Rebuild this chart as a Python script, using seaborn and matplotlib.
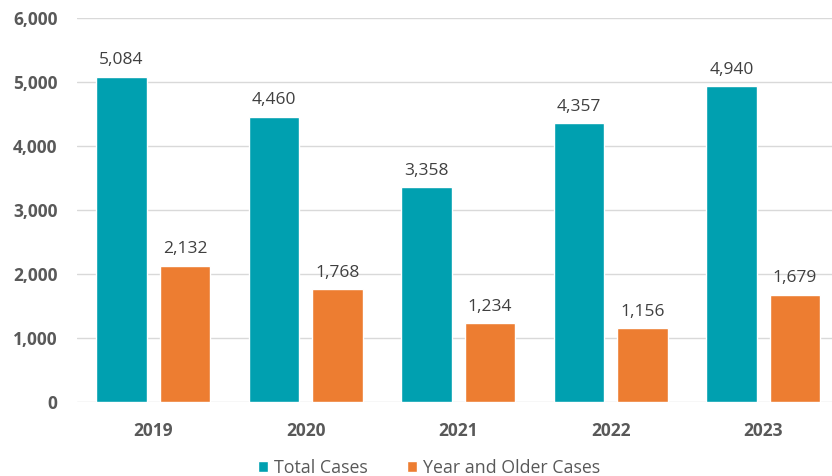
import numpy as np
import pandas as pd
import matplotlib.pyplot as plt
import matplotlib.ticker as mticker
import seaborn as sns

sns.set_theme(style="whitegrid")
plt.rcParams["font.family"] = ["Open Sans", "DejaVu Sans"]

years = ["2019", "2020", "2021", "2022", "2023"]
total_cases = [5084, 4460, 3358, 4357, 4940]
older_cases = [2132, 1768, 1234, 1156, 1679]
series_names = ["Total Cases", "Year and Older Cases"]

PALETTE = {"Total Cases": "#00A0B0", "Year and Older Cases": "#ED7D31"}
TEXT = "#595959"

df = pd.DataFrame({
    "Year": years * 2,
    "Cases": total_cases + older_cases,
    "Series": [series_names[0]] * len(years) + [series_names[1]] * len(years),
})

fig, ax = plt.subplots(figsize=(8.32, 4.76), dpi=100)
fig.subplots_adjust(left=0.0925, right=1.0, bottom=0.155, top=0.962)

sns.barplot(data=df, x="Year", y="Cases", hue="Series", palette=PALETTE,
            width=0.83, gap=0.2, saturation=1, ax=ax, legend=True)

for cont in ax.containers:
    ax.bar_label(cont, labels=[f"{v:,.0f}" for v in cont.datavalues],
                 padding=6, fontsize=12.5, color="#404040")

ax.set_ylim(0, 6000)
ax.set_xlim(-0.5, 4.45)
ax.yaxis.set_major_locator(mticker.MultipleLocator(1000))
ax.yaxis.set_major_formatter(mticker.StrMethodFormatter("{x:,.0f}"))
ax.grid(axis="y", color="#D9D9D9", linewidth=1)
ax.grid(axis="x", visible=False)
for s in ax.spines.values():
    s.set_visible(False)
ax.set_xlabel("")
ax.set_ylabel("")
ax.tick_params(axis="both", length=0, labelsize=12.5, labelcolor=TEXT)
ax.tick_params(axis="x", pad=14)
ax.tick_params(axis="y", pad=14)
for lbl in ax.get_xticklabels() + ax.get_yticklabels():
    lbl.set_fontweight("bold")

handles, labels = ax.get_legend_handles_labels()
ax.legend(handles, labels, loc="center", bbox_to_anchor=(0.466, -0.17),
          ncol=2, frameon=False, fontsize=12.8, handlelength=0.6, handleheight=0.6,
          handletextpad=0.3, columnspacing=2.2, labelcolor=TEXT)

fig.savefig("out.png", dpi=100)
